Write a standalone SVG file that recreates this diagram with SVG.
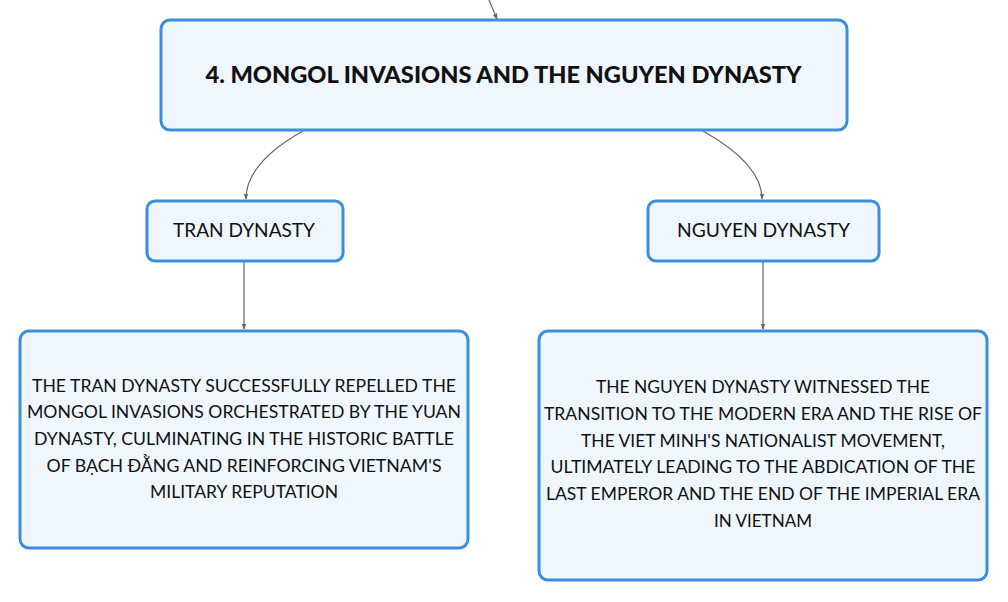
<svg xmlns="http://www.w3.org/2000/svg" width="1008" height="602" viewBox="0 0 1008 602">
<defs>
<style>
.box{fill:#eff6fd;stroke:#3a8fdc;stroke-width:3}
.conn{fill:none;stroke:#666;stroke-width:1.2;marker-end:url(#arr)}
.t{font-family:Lato,"Open Sans","Liberation Sans",sans-serif;fill:#111;text-anchor:middle}
.title{font-size:22.5px;font-weight:900}
.lbl{font-size:19px}
.body{font-size:17.5px}
</style>
<marker id="arr" viewBox="0 0 10 10" refX="9" refY="5" markerWidth="6" markerHeight="6" orient="auto" markerUnits="userSpaceOnUse">
<path d="M0,1 L10,5 L0,9 z" fill="#666"/>
</marker>
</defs>
<rect width="1008" height="602" fill="#fff"/>
<g id="connectors">
<path class="conn" d="M489,0 L497,19"/>
<path class="conn" d="M303,131 C262,154 246,176 246,199"/>
<path class="conn" d="M703,131 C744,154 762,176 762,199"/>
<path class="conn" d="M244,262 L244,329"/>
<path class="conn" d="M763,262 L763,329"/>
</g>
<g id="main">
<rect class="box" x="161" y="20" width="686" height="110" rx="9"/>
<text class="t title" x="503.5" y="82.5" textLength="596" lengthAdjust="spacingAndGlyphs">4. MONGOL INVASIONS AND THE NGUYEN DYNASTY</text>
</g>
<g id="tran">
<rect class="box" x="147" y="201" width="196" height="60" rx="8"/>
<text class="t lbl" x="244" y="236.7" textLength="142" lengthAdjust="spacingAndGlyphs">TRAN DYNASTY</text>
</g>
<g id="nguyen">
<rect class="box" x="648" y="201" width="231" height="60" rx="8"/>
<text class="t lbl" x="763.5" y="236.7" textLength="173" lengthAdjust="spacingAndGlyphs">NGUYEN DYNASTY</text>
</g>
<g id="tran-detail">
<rect class="box" x="20" y="331" width="448" height="217" rx="9"/>
<text class="t body" x="244" y="391.7" textLength="424" lengthAdjust="spacingAndGlyphs">THE TRAN DYNASTY SUCCESSFULLY REPELLED THE</text>
<text class="t body" x="244" y="418.3" textLength="434" lengthAdjust="spacingAndGlyphs">MONGOL INVASIONS ORCHESTRATED BY THE YUAN</text>
<text class="t body" x="244" y="445" textLength="420" lengthAdjust="spacingAndGlyphs">DYNASTY, CULMINATING IN THE HISTORIC BATTLE</text>
<text class="t body" x="244" y="471.7" textLength="395" lengthAdjust="spacingAndGlyphs">OF BẠCH ĐẰNG AND REINFORCING VIETNAM'S</text>
<text class="t body" x="244" y="498.3" textLength="188" lengthAdjust="spacingAndGlyphs">MILITARY REPUTATION</text>
</g>
<g id="nguyen-detail">
<rect class="box" x="539" y="331" width="448" height="249" rx="9"/>
<text class="t body" x="763" y="393.3" textLength="334" lengthAdjust="spacingAndGlyphs">THE NGUYEN DYNASTY WITNESSED THE</text>
<text class="t body" x="763" y="420" textLength="438" lengthAdjust="spacingAndGlyphs">TRANSITION TO THE MODERN ERA AND THE RISE OF</text>
<text class="t body" x="763" y="446.7" textLength="364" lengthAdjust="spacingAndGlyphs">THE VIET MINH'S NATIONALIST MOVEMENT,</text>
<text class="t body" x="763" y="473.3" textLength="425" lengthAdjust="spacingAndGlyphs">ULTIMATELY LEADING TO THE ABDICATION OF THE</text>
<text class="t body" x="763" y="500" textLength="434" lengthAdjust="spacingAndGlyphs">LAST EMPEROR AND THE END OF THE IMPERIAL ERA</text>
<text class="t body" x="763" y="526.7" textLength="98" lengthAdjust="spacingAndGlyphs">IN VIETNAM</text>
</g>
</svg>
